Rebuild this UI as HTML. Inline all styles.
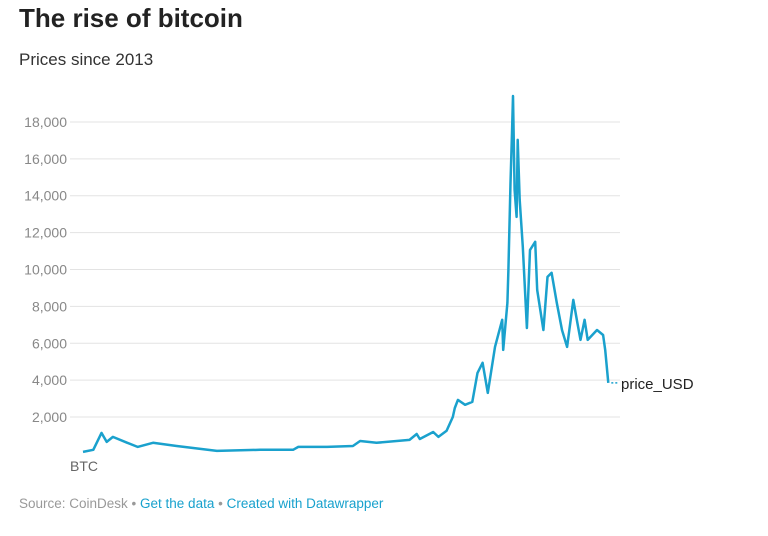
<!DOCTYPE html>
<html><head><meta charset="utf-8"><style>
body{margin:0;width:768px;height:536px;background:#fff;font-family:"Liberation Sans",sans-serif;overflow:hidden;position:relative}
.t{position:absolute;left:19px;top:3px;font-size:26px;font-weight:bold;color:#222}
.s{position:absolute;left:19px;top:50px;font-size:17px;color:#333}
.f{position:absolute;left:19px;top:496px;font-size:13.5px;color:#999}
.f a{color:#18a1cd;text-decoration:none}
svg{position:absolute;left:0;top:0}
</style></head><body>
<div class="t">The rise of bitcoin</div>
<div class="s">Prices since 2013</div>
<svg id="c" width="768" height="536"></svg>
<div class="f">Source: CoinDesk • <a href="#">Get the data</a> • <a href="#">Created with Datawrapper</a></div>
<script>
const yTicks=[2000,4000,6000,8000,10000,12000,14000,16000,18000];
const years=[2013.75,2013.85,2013.93,2013.98,2014.04,2014.18,2014.28,2014.43,2014.66,2015.05,2015.47,2015.79,2015.84,2016.12,2016.37,2016.44,2016.60,2016.92,2016.99,2017.02,2017.15,2017.20,2017.28,2017.34,2017.36,2017.39,2017.46,2017.53,2017.58,2017.63,2017.68,2017.75,2017.82,2017.83,2017.87,2017.88,2017.90,2017.915,2017.925,2017.94,2017.96,2017.97,2017.99,2018.02,2018.06,2018.09,2018.14,2018.16,2018.22,2018.26,2018.30,2018.35,2018.40,2018.45,2018.51,2018.55,2018.58,2018.62,2018.65,2018.74,2018.80,2018.82,2018.85];
const prices=[110,220,1140,650,920,600,380,600,430,160,220,220,380,380,430,700,600,760,1080,810,1190,920,1250,2000,2490,2930,2660,2820,4390,4940,3310,5800,7270,5640,8190,9980,14700,17410,19410,14320,12850,17030,13770,11230,6830,11060,11500,8890,6720,9600,9820,8190,6720,5800,8350,7100,6180,7270,6180,6720,6450,5640,3850];
const NS="http://www.w3.org/2000/svg",svg=document.getElementById('c');
const y=v=>453.9-v*0.01844, x=t=>83+(t-2013.75)*103;
function mk(tag,attrs){const e=document.createElementNS(NS,tag);for(const k in attrs)e.setAttribute(k,attrs[k]);svg.appendChild(e);return e;}
yTicks.forEach(v=>{
 const g=mk('line',{x1:70,x2:620,y1:y(v),y2:y(v),stroke:'#e3e3e3','stroke-width':1});
 
 
 const t=mk('text',{x:67,y:y(v)+5,'text-anchor':'end','font-size':14,fill:'#888','font-family':'Liberation Sans'});
 t.textContent=v.toLocaleString('en-US');
 
 
});
const n=Math.min(years.length,prices.length);
let d='';
for(let i=0;i<n;i++){d+=(i?'L':'M')+x(years[i]).toFixed(1)+','+y(prices[i]).toFixed(1);}
const p=mk('path',{d:d,fill:'none',stroke:'#1aa1cd','stroke-width':2.5,'stroke-linejoin':'round'});


const lx=x(years[n-1]),ly=y(prices[n-1]);
const dl=mk('line',{x1:lx+3,x2:lx+10,y1:ly,y2:ly,stroke:'#1aa1cd','stroke-width':1.5,'stroke-dasharray':'2,2'});


const lab=mk('text',{x:621,y:ly+6,'font-size':15,fill:'#222','font-family':'Liberation Sans'});
lab.textContent='price_USD';


const b=mk('text',{x:70,y:471,'font-size':14,fill:'#666','font-family':'Liberation Sans'});
b.textContent='BTC';


</script>
</body></html>
